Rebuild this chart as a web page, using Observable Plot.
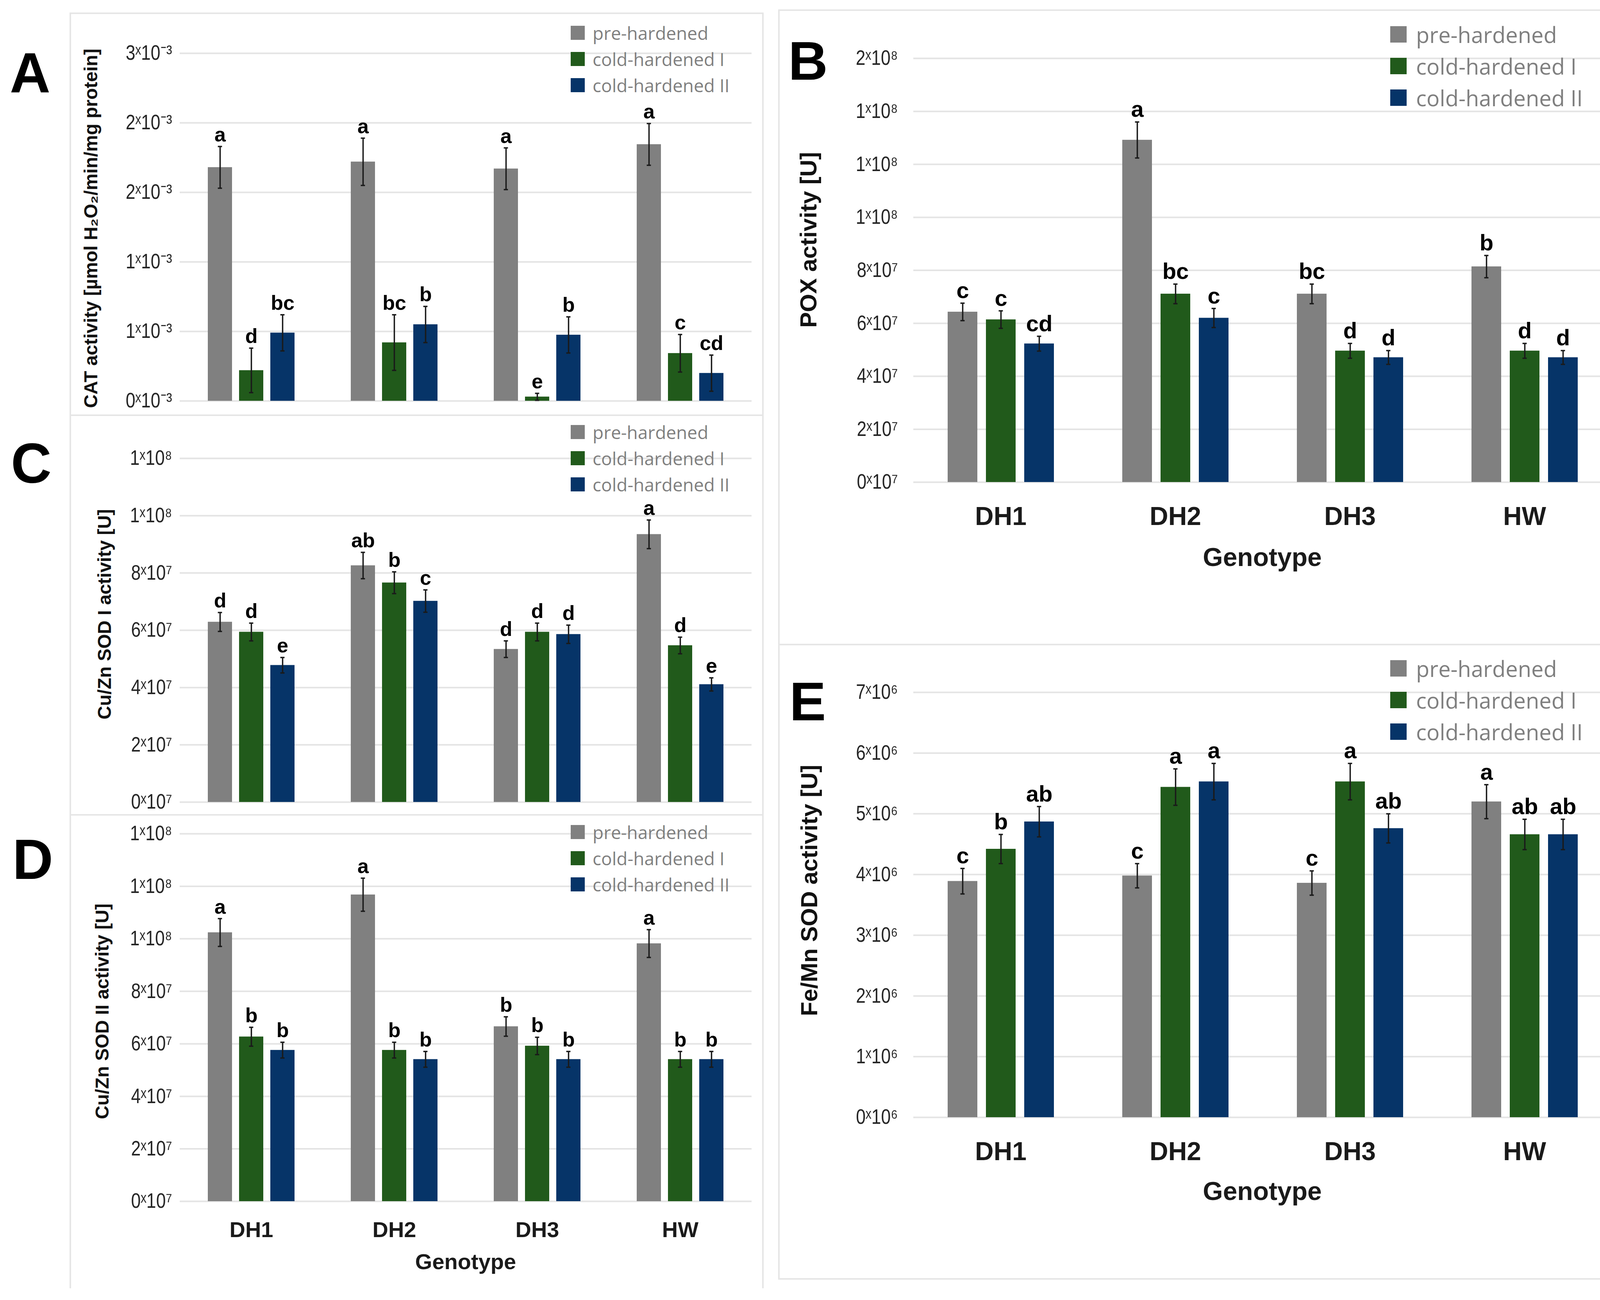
<!DOCTYPE html>
<html><head><meta charset="utf-8">
<script src="https://cdn.jsdelivr.net/npm/d3@7"></script>
<script src="https://cdn.jsdelivr.net/npm/@observablehq/plot@0.6"></script>
<style>
html,body{margin:0;padding:0;background:#fff;}
#page{position:relative;width:4186px;height:3328px;background:#fff;overflow:hidden;font-family:"Liberation Sans",Arial,sans-serif;}
.line{position:absolute;background:#e6e6e6;}
.letter{position:absolute;font-weight:bold;font-size:144px;line-height:1;color:#000;}
.legend{position:absolute;font-family:"Open Sans",sans-serif;color:#7f7f7f;}
.legend .row{display:flex;align-items:center;white-space:nowrap;}
.gen{position:absolute;font-weight:bold;transform:translate(-50%,-50%);white-space:nowrap;color:#1a1a1a;line-height:1;}
</style></head>
<body><div id="page"></div>
<script>
// ---------- shared categories ----------
const genotypes = ["DH1", "DH2", "DH3", "HW"];
const treatments = ["pre-hardened", "cold-hardened I", "cold-hardened II"];
const colors = ["#808080", "#215a1b", "#063468"];

// ---------- A: CAT ----------
const catPre = [1.68e-3, 1.72e-3, 1.67e-3, 1.845e-3];
const catPreErr = [0.15e-3, 0.17e-3, 0.15e-3, 0.15e-3];
const catC1 = [0.22e-3, 0.42e-3, 0.03e-3, 0.343e-3];
const catC1Err = [0.16e-3, 0.20e-3, 0.025e-3, 0.135e-3];
const catC2 = [0.49e-3, 0.55e-3, 0.475e-3, 0.20e-3];
const catC2Err = [0.13e-3, 0.13e-3, 0.13e-3, 0.13e-3];
const catLetters = [["a","a","a","a"], ["d","bc","e","c"], ["bc","b","b","cd"]];
const catTicks = [0, 0.5e-3, 1e-3, 1.5e-3, 2e-3, 2.5e-3];
const catTickLabels = ["0ˣ10⁻³","1ˣ10⁻³","1ˣ10⁻³","2ˣ10⁻³","2ˣ10⁻³","3ˣ10⁻³"];

// ---------- B: POX ----------
const poxPre = [6.43e7, 12.92e7, 7.11e7, 8.14e7];
const poxPreErr = [0.33e7, 0.68e7, 0.37e7, 0.42e7];
const poxC1 = [6.14e7, 7.11e7, 4.96e7, 4.96e7];
const poxC1Err = [0.33e7, 0.37e7, 0.28e7, 0.28e7];
const poxC2 = [5.23e7, 6.20e7, 4.71e7, 4.71e7];
const poxC2Err = [0.28e7, 0.36e7, 0.26e7, 0.26e7];
const poxLetters = [["c","a","bc","b"], ["c","bc","d","d"], ["cd","c","d","d"]];
const poxTicks = [0, 2e7, 4e7, 6e7, 8e7, 10e7, 12e7, 14e7, 16e7];
const poxTickLabels = ["0ˣ10⁷","2ˣ10⁷","4ˣ10⁷","6ˣ10⁷","8ˣ10⁷","1ˣ10⁸","1ˣ10⁸","1ˣ10⁸","2ˣ10⁸"];

// ---------- C: Cu/Zn SOD I ----------
const sod1Pre = [6.29e7, 8.26e7, 5.34e7, 9.35e7];
const sod1PreErr = [0.33e7, 0.46e7, 0.29e7, 0.50e7];
const sod1C1 = [5.94e7, 7.66e7, 5.94e7, 5.47e7];
const sod1C1Err = [0.31e7, 0.38e7, 0.31e7, 0.29e7];
const sod1C2 = [4.78e7, 7.02e7, 5.86e7, 4.11e7];
const sod1C2Err = [0.27e7, 0.39e7, 0.32e7, 0.23e7];
const sod1Letters = [["d","ab","d","a"], ["d","b","d","d"], ["e","c","d","e"]];
const sod1Ticks = [0, 2e7, 4e7, 6e7, 8e7, 10e7, 12e7];
const sod1TickLabels = ["0ˣ10⁷","2ˣ10⁷","4ˣ10⁷","6ˣ10⁷","8ˣ10⁷","1ˣ10⁸","1ˣ10⁸"];

// ---------- D: Cu/Zn SOD II ----------
const sod2Pre = [10.24e7, 11.68e7, 6.66e7, 9.82e7];
const sod2PreErr = [0.53e7, 0.63e7, 0.37e7, 0.53e7];
const sod2C1 = [6.27e7, 5.76e7, 5.92e7, 5.41e7];
const sod2C1Err = [0.36e7, 0.30e7, 0.33e7, 0.30e7];
const sod2C2 = [5.76e7, 5.41e7, 5.41e7, 5.41e7];
const sod2C2Err = [0.30e7, 0.30e7, 0.30e7, 0.30e7];
const sod2Letters = [["a","a","b","a"], ["b","b","b","b"], ["b","b","b","b"]];
const sod2Ticks = [0, 2e7, 4e7, 6e7, 8e7, 10e7, 12e7, 14e7];
const sod2TickLabels = ["0ˣ10⁷","2ˣ10⁷","4ˣ10⁷","6ˣ10⁷","8ˣ10⁷","1ˣ10⁸","1ˣ10⁸","1ˣ10⁸"];

// ---------- E: Fe/Mn SOD ----------
const femnPre = [3.89e6, 3.98e6, 3.86e6, 5.20e6];
const femnPreErr = [0.21e6, 0.20e6, 0.20e6, 0.28e6];
const femnC1 = [4.42e6, 5.44e6, 5.53e6, 4.66e6];
const femnC1Err = [0.24e6, 0.30e6, 0.30e6, 0.25e6];
const femnC2 = [4.87e6, 5.53e6, 4.76e6, 4.66e6];
const femnC2Err = [0.25e6, 0.30e6, 0.24e6, 0.25e6];
const femnLetters = [["c","c","c","a"], ["b","a","a","ab"], ["ab","a","ab","ab"]];
const femnTicks = [0, 1e6, 2e6, 3e6, 4e6, 5e6, 6e6, 7e6];
const femnTickLabels = ["0ˣ10⁶","1ˣ10⁶","2ˣ10⁶","3ˣ10⁶","4ˣ10⁶","5ˣ10⁶","6ˣ10⁶","7ˣ10⁶"];

const page = document.getElementById("page");

function rowsOf(vals, errs, letters) {
  const out = [];
  genotypes.forEach((g, i) => {
    treatments.forEach((t, j) => {
      out.push({genotype: g, treatment: t, value: vals[j][i], err: errs[j][i], letter: letters[j][i]});
    });
  });
  return out;
}

const tickFont = "'Liberation Sans Narrow','Arial Narrow','Liberation Sans',sans-serif";
const PI = 0.227, PO = 0.886;

function panel(c) {
  const rows = rowsOf(c.vals, c.errs, c.letters);
  const labelMap = new Map(c.ticks.map((t, i) => [t, c.tickLabels[i]]));
  const mL = c.marginLeft, mR = 20, mT = 20, mB = c.marginBottom;
  const width = mL + c.plotW + mR;
  const height = mT + c.plotH + mB;
  const facetW = c.plotW / genotypes.length;
  const bw = facetW / (3 - PI + 2 * PO) * (1 - PI);
  const capInset = Math.max(0, (bw - 11) / 2);
  const marks = [
    Plot.ruleY(c.ticks, {stroke: "#e4e4e4", strokeWidth: 4}),
    Plot.barY(rows, {fx: "genotype", x: "treatment", y: "value", fill: "treatment"}),
    Plot.ruleX(rows, {fx: "genotype", x: "treatment", y1: d => d.value - d.err, y2: d => d.value + d.err, stroke: "#1a1a1a", strokeWidth: 3.5}),
    Plot.tickY(rows, {fx: "genotype", x: "treatment", y: d => d.value + d.err, insetLeft: capInset, insetRight: capInset, stroke: "#1a1a1a", strokeWidth: 3.5}),
    Plot.tickY(rows, {fx: "genotype", x: "treatment", y: d => d.value - d.err, insetLeft: capInset, insetRight: capInset, stroke: "#1a1a1a", strokeWidth: 3.5}),
    Plot.text(rows, {fx: "genotype", x: "treatment", y: d => d.value + d.err, text: "letter", lineAnchor: "bottom", dy: -13, fontSize: c.letterFont, fontWeight: "bold", fill: "#000"}),
    Plot.axisY({ticks: c.ticks, tickFormat: d => labelMap.get(d), tickSize: 0, tickPadding: c.tickPad, fontSize: 53, fontFamily: tickFont, color: "#262626", label: null}),
    Plot.text([c.yLabel], {fx: [genotypes[0]], frameAnchor: "left", rotate: -90, dx: c.labelDx, dy: c.labelDy, textAnchor: "middle", lineAnchor: "middle", fontSize: c.yTitleFont, fontWeight: "bold", fill: "#111"})
  ];
  if (c.showFx) marks.push(Plot.axisFx({anchor: "bottom", tickSize: 0, tickPadding: c.fxPad, fontSize: c.fxFont, fontWeight: "bold", color: "#1a1a1a", label: null}));
  const fxOpts = {domain: genotypes, padding: 0};
  if (!c.showFx) fxOpts.axis = null;
  const svg = Plot.plot({
    width, height, marginLeft: mL, marginRight: mR, marginTop: mT, marginBottom: mB,
    style: {background: "transparent", overflow: "visible", fontFamily: "'Liberation Sans',Arial,sans-serif"},
    fx: fxOpts,
    x: {domain: treatments, paddingInner: PI, paddingOuter: PO, axis: null},
    y: {domain: [0, c.yMax]},
    color: {domain: treatments, range: colors},
    marks
  });
  svg.style.position = "absolute";
  svg.style.left = (c.plotLeft - mL) + "px";
  svg.style.top = (c.plotTop - mT) + "px";
  page.appendChild(svg);

  // condense the y tick labels (reference uses a narrow face)
  svg.querySelectorAll("g[aria-label='y-axis tick label'] text").forEach(t => {
    const w = t.getComputedTextLength();
    if (w > 0) {
      t.setAttribute("textLength", (w * 0.84).toFixed(1));
      t.setAttribute("lengthAdjust", "spacingAndGlyphs");
    }
  });

  // panel letter
  const L = document.createElement("div");
  L.className = "letter";
  L.textContent = c.letter;
  L.style.left = c.letterX + "px";
  L.style.top = c.letterY + "px";
  L.style.fontSize = c.letterSize + "px";
  page.appendChild(L);

  // legend
  const lg = document.createElement("div");
  lg.className = "legend";
  lg.style.left = c.legX + "px";
  lg.style.top = c.legY + "px";
  lg.style.fontSize = c.legFont + "px";
  treatments.forEach((t, j) => {
    const r = document.createElement("div");
    r.className = "row";
    r.style.height = c.legRow + "px";
    const sw = document.createElement("span");
    sw.style.display = "inline-block";
    sw.style.width = c.legSw + "px";
    sw.style.height = c.legSw + "px";
    sw.style.background = colors[j];
    sw.style.marginRight = c.legGap + "px";
    const tx = document.createElement("span");
    tx.textContent = t;
    r.appendChild(sw); r.appendChild(tx);
    lg.appendChild(r);
  });
  page.appendChild(lg);

  if (c.showFx) {
    const g = document.createElement("div");
    g.className = "gen";
    g.textContent = "Genotype";
    g.style.left = (c.plotLeft + c.plotW / 2) + "px";
    g.style.top = c.genY + "px";
    g.style.fontSize = c.fxFont + "px";
    page.appendChild(g);
  }
}

// frames
function line(x, y, w, h) {
  const d = document.createElement("div");
  d.className = "line";
  d.style.left = x + "px"; d.style.top = y + "px";
  d.style.width = w + "px"; d.style.height = h + "px";
  page.appendChild(d);
}
// left column
line(178, 32, 4, 3266);
line(1951, 32, 4, 3266);
line(178, 32, 1777, 4);
line(178, 1061, 1777, 4);
line(178, 2084, 1777, 4);
// right column
line(1992, 24, 4, 3252);
line(4161, 24, 4, 3252);
line(1992, 24, 2173, 4);
line(1992, 1648, 2173, 4);
line(1992, 3272, 2173, 4);

const leftCommon = {plotLeft: 460, plotW: 1464, marginLeft: 300, letterFont: 52, yTitleFont: 48, tickPad: 20,
  fxFont: 56, fxPad: 52, legX: 1461, legFont: 46, legRow: 67, legSw: 36, legGap: 20, letterSize: 144};
const rightCommon = {plotLeft: 2336, plotW: 1791, marginLeft: 320, letterFont: 58, yTitleFont: 60, tickPad: 40,
  fxFont: 66, fxPad: 63, legX: 3559, legFont: 56, legRow: 81, legSw: 42, legGap: 24, letterSize: 140};

panel(Object.assign({}, leftCommon, {
  vals: [catPre, catC1, catC2], errs: [catPreErr, catC1Err, catC2Err], letters: catLetters,
  yMax: 2.5e-3, ticks: catTicks, tickLabels: catTickLabels,
  yLabel: "CAT activity [µmol H₂O₂/min/mg protein]",
  plotTop: 136, plotH: 890, marginBottom: 10, showFx: false,
  labelDx: -227, labelDy: 3, letter: "A", letterX: 25, letterY: 115, legY: 50
}));
panel(Object.assign({}, leftCommon, {
  vals: [sod1Pre, sod1C1, sod1C2], errs: [sod1PreErr, sod1C1Err, sod1C2Err], letters: sod1Letters,
  yMax: 12e7, ticks: sod1Ticks, tickLabels: sod1TickLabels,
  yLabel: "Cu/Zn SOD I activity [U]",
  plotTop: 1173, plotH: 880, marginBottom: 10, showFx: false,
  labelDx: -192, labelDy: -41, letter: "C", letterX: 28, letterY: 1115, legY: 1072
}));
panel(Object.assign({}, leftCommon, {
  vals: [sod2Pre, sod2C1, sod2C2], errs: [sod2PreErr, sod2C1Err, sod2C2Err], letters: sod2Letters,
  yMax: 14e7, ticks: sod2Ticks, tickLabels: sod2TickLabels,
  yLabel: "Cu/Zn SOD II activity [U]",
  plotTop: 2134, plotH: 941, marginBottom: 130, showFx: true, genY: 3230,
  labelDx: -198, labelDy: -16, letter: "D", letterX: 32, letterY: 2129, legY: 2096
}));
panel(Object.assign({}, rightCommon, {
  vals: [poxPre, poxC1, poxC2], errs: [poxPreErr, poxC1Err, poxC2Err], letters: poxLetters,
  yMax: 16e7, ticks: poxTicks, tickLabels: poxTickLabels,
  yLabel: "POX activity [U]",
  plotTop: 149, plotH: 1085, marginBottom: 130, showFx: true, genY: 1426,
  labelDx: -268, labelDy: -78, letter: "B", letterX: 2018, letterY: 86, legY: 47
}));
panel(Object.assign({}, rightCommon, {
  vals: [femnPre, femnC1, femnC2], errs: [femnPreErr, femnC1Err, femnC2Err], letters: femnLetters,
  yMax: 7e6, ticks: femnTicks, tickLabels: femnTickLabels,
  yLabel: "Fe/Mn SOD activity [U]",
  plotTop: 1772, plotH: 1088, marginBottom: 130, showFx: true, genY: 3049,
  labelDx: -266, labelDy: -37, letter: "E", letterX: 2021, letterY: 1726, legY: 1670
}));
</script>
</body></html>
